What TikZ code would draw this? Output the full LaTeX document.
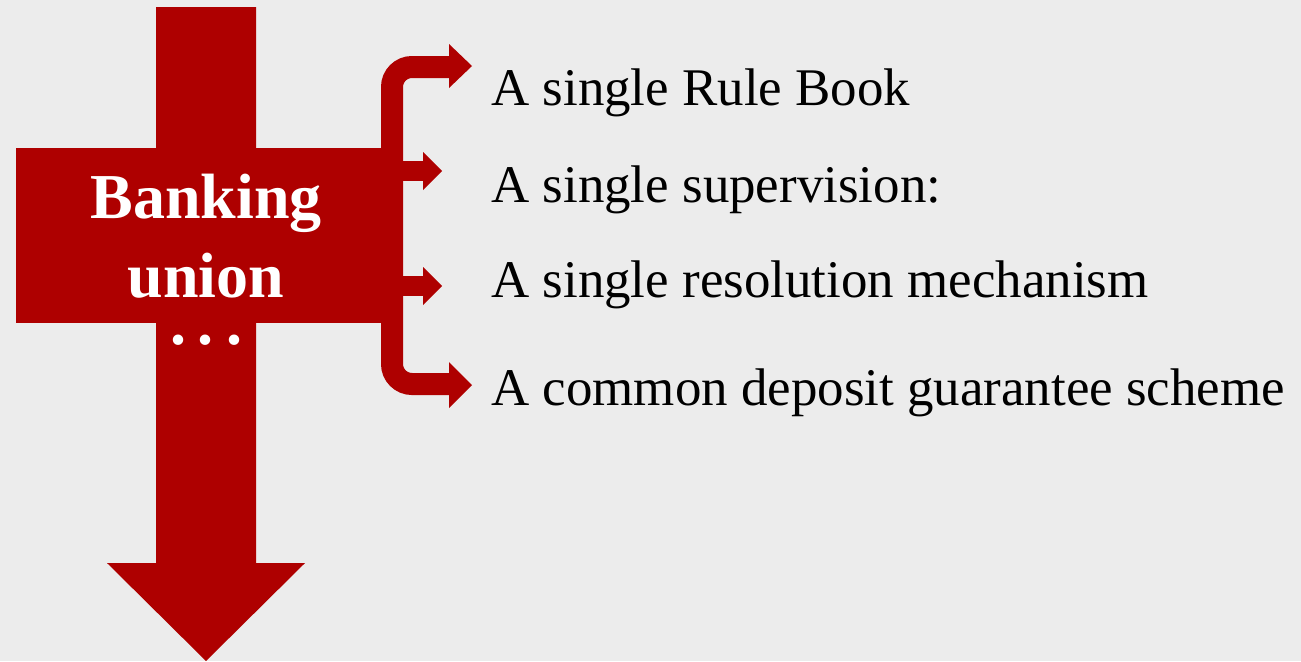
\documentclass[tikz,border=0pt]{standalone}
\usepackage{fontspec}
\setmainfont{Liberation Serif}
\definecolor{bured}{RGB}{174,0,0}
\definecolor{bgray}{RGB}{236,236,236}
\begin{document}
\begin{tikzpicture}[x=0.75pt,y=-0.75pt,
  itemtext/.style={anchor=base west, inner sep=0pt, font=\fontsize{39.7}{48}\selectfont, text=black},
  boxtext/.style={anchor=base, inner sep=0pt, font=\fontsize{48}{58}\selectfont\bfseries, text=white},
  redfill/.style={fill=bured, draw=none},
  bracketline/.style={draw=bured, line width=16.5pt, rounded corners=15pt}]
\fill[bgray] (0,0) rectangle (1301,661);
\useasboundingbox (0,0) rectangle (1301,661);
% main downward arrow
\fill[redfill] (156,7) -- (256,7) -- (256,563) -- (305,563) -- (206,661) -- (107,563) -- (156,563) -- cycle;
% box
\fill[redfill] (16,148) rectangle (381,323);
\node[boxtext] (bank) at (206,218) {Banking};
\node[boxtext] (union) at (206,297) {union};
\node[boxtext, text height=1pt] (dots) at (206,344) {.\kern9pt.\kern9pt.};
% item texts
\node[itemtext] (t1) at (491,105) {A single Rule Book};
\node[itemtext] (t2) at (491,202) {A single supervision:};
\node[itemtext] (t3) at (491,297) {A single resolution mechanism};
\node[itemtext] (t4) at (491,405) {A common deposit guarantee scheme};
% bracket
\coordinate (a1) at (449,67);
\coordinate (a4) at (449,384);
\draw[bracketline] (a1) -- (392,67) -- (392,384) -- (a4);
\fill[redfill] (392,161) rectangle (423,181);
\fill[redfill] (392,276) rectangle (423,296);
% arrowheads
\fill[redfill] (449,44) -- (472,66) -- (449,88) -- cycle;
\fill[redfill] (423,152) -- (442,171) -- (423,190) -- cycle;
\fill[redfill] (423,267) -- (442,286) -- (423,305) -- cycle;
\fill[redfill] (449,362) -- (472,385) -- (449,408) -- cycle;
\end{tikzpicture}
\end{document}
